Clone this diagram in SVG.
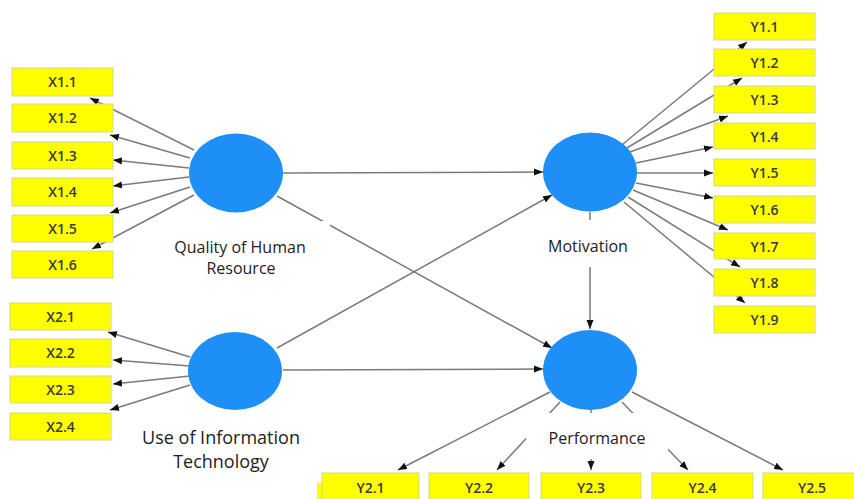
<svg xmlns="http://www.w3.org/2000/svg" width="854" height="499" viewBox="0 0 854 499">
<defs>
<marker id="ah" markerUnits="userSpaceOnUse" markerWidth="10" markerHeight="8" refX="9" refY="4" orient="auto">
<path d="M0,0.5 L9,4 L0,7.5 z" fill="#111"/>
</marker>
<style>
.c line{stroke:#7a7a7a;stroke-width:1.5;marker-end:url(#ah)}
.lv{fill:#1e8ff7}
.bx{fill:#ffff00;stroke:#d6d68a;stroke-width:1}
.bt{font-family:"Open Sans","Liberation Sans",sans-serif;font-size:14px;font-weight:600;fill:#3a3a3a;text-anchor:middle}
.lb{font-family:"Open Sans","Liberation Sans",sans-serif;font-size:16px;fill:#222;text-anchor:middle}
.bg{fill:#fff}
</style>
</defs>
<rect width="854" height="499" fill="#fff"/>
<g id="connectors" class="c">
<line x1="194" y1="150" x2="90" y2="98"/>
<line x1="190" y1="158" x2="110" y2="135"/>
<line x1="189" y1="168" x2="113" y2="160"/>
<line x1="189" y1="177" x2="113" y2="186"/>
<line x1="190" y1="187" x2="110" y2="213"/>
<line x1="194" y1="195" x2="92" y2="249"/>
<line x1="190" y1="357" x2="108" y2="332"/>
<line x1="190" y1="366" x2="113" y2="360"/>
<line x1="190" y1="376" x2="113" y2="384"/>
<line x1="190" y1="385" x2="110" y2="410"/>
<line x1="623" y1="144" x2="747" y2="42"/>
<line x1="627" y1="148" x2="742" y2="78"/>
<line x1="630" y1="152" x2="728" y2="116"/>
<line x1="636" y1="163" x2="713" y2="147"/>
<line x1="637" y1="173" x2="713" y2="173"/>
<line x1="636" y1="183" x2="713" y2="198"/>
<line x1="633" y1="190" x2="728" y2="230"/>
<line x1="628" y1="197" x2="740" y2="267"/>
<line x1="624" y1="202" x2="745" y2="303"/>
<line x1="550" y1="392" x2="398" y2="470"/>
<line x1="560" y1="402" x2="497" y2="470"/>
<line x1="591" y1="408" x2="591" y2="470"/>
<line x1="622" y1="402" x2="688" y2="470"/>
<line x1="632" y1="392" x2="783" y2="470"/>
<line x1="283" y1="173" x2="543" y2="172"/>
<line x1="277" y1="348" x2="552" y2="195"/>
<line x1="277" y1="196" x2="552" y2="348"/>
<line x1="283" y1="370" x2="543" y2="369"/>
<line x1="590" y1="212" x2="590" y2="329"/>
</g>
<g id="QHR">
<rect class="bg" x="150" y="221" width="180" height="60"/>
<ellipse class="lv" cx="236" cy="173" rx="47" ry="39.5"/>
<text class="lb" x="240" y="253">Quality of Human</text>
<text class="lb" x="241" y="273.5">Resource</text>
</g>
<g id="UIT">
<rect class="bg" x="135" y="420" width="175" height="55"/>
<ellipse class="lv" cx="235" cy="371" rx="47" ry="39"/>
<text class="lb" x="221" y="444" style="font-size:18px">Use of Information</text>
<text class="lb" x="221" y="468" style="font-size:18px">Technology</text>
</g>
<g id="MOT">
<rect class="bg" x="543" y="220" width="95" height="47"/>
<ellipse class="lv" cx="590" cy="172" rx="47" ry="39.5"/>
<text class="lb" x="588" y="252">Motivation</text>
</g>
<g id="PERF">
<rect class="bg" x="526" y="413" width="142" height="46"/>
<ellipse class="lv" cx="590" cy="370" rx="47" ry="40"/>
<text class="lb" x="597" y="444">Performance</text>
</g>
<g id="X1.1"><rect class="bx" x="12" y="68" width="101" height="28"/><text class="bt" x="62.5" y="87">X1.1</text></g>
<g id="X1.2"><rect class="bx" x="12" y="104" width="101" height="28"/><text class="bt" x="62.5" y="123">X1.2</text></g>
<g id="X1.3"><rect class="bx" x="12" y="142" width="101" height="27"/><text class="bt" x="62.5" y="160.5">X1.3</text></g>
<g id="X1.4"><rect class="bx" x="12" y="178" width="101" height="28"/><text class="bt" x="62.5" y="197">X1.4</text></g>
<g id="X1.5"><rect class="bx" x="12" y="215" width="101" height="27"/><text class="bt" x="62.5" y="233.5">X1.5</text></g>
<g id="X1.6"><rect class="bx" x="12" y="251" width="101" height="27"/><text class="bt" x="62.5" y="269.5">X1.6</text></g>
<g id="X2.1"><rect class="bx" x="10" y="303" width="101" height="27"/><text class="bt" x="60.5" y="321.5">X2.1</text></g>
<g id="X2.2"><rect class="bx" x="10" y="339" width="101" height="28"/><text class="bt" x="60.5" y="358">X2.2</text></g>
<g id="X2.3"><rect class="bx" x="10" y="376" width="101" height="27"/><text class="bt" x="60.5" y="394.5">X2.3</text></g>
<g id="X2.4"><rect class="bx" x="10" y="413" width="101" height="27"/><text class="bt" x="60.5" y="431.5">X2.4</text></g>
<g id="Y1.1"><rect class="bx" x="714" y="13" width="101" height="27"/><text class="bt" x="764.5" y="32">Y1.1</text></g>
<g id="Y1.2"><rect class="bx" x="714" y="49" width="101" height="27"/><text class="bt" x="764.5" y="68">Y1.2</text></g>
<g id="Y1.3"><rect class="bx" x="714" y="86" width="101" height="27"/><text class="bt" x="764.5" y="105">Y1.3</text></g>
<g id="Y1.4"><rect class="bx" x="714" y="123" width="101" height="26"/><text class="bt" x="764.5" y="141.5">Y1.4</text></g>
<g id="Y1.5"><rect class="bx" x="714" y="159" width="101" height="27"/><text class="bt" x="764.5" y="178">Y1.5</text></g>
<g id="Y1.6"><rect class="bx" x="714" y="196" width="101" height="27"/><text class="bt" x="764.5" y="215">Y1.6</text></g>
<g id="Y1.7"><rect class="bx" x="714" y="233" width="101" height="26"/><text class="bt" x="764.5" y="251.5">Y1.7</text></g>
<g id="Y1.8"><rect class="bx" x="714" y="269" width="101" height="27"/><text class="bt" x="764.5" y="288">Y1.8</text></g>
<g id="Y1.9"><rect class="bx" x="714" y="306" width="101" height="27"/><text class="bt" x="764.5" y="325">Y1.9</text></g>
<g id="Y2.1"><rect x="317" y="483" width="12" height="20" fill="#ffff00"/><rect class="bx" x="322" y="473" width="97" height="30"/><text class="bt" x="370.5" y="493">Y2.1</text></g>
<g id="Y2.2"><rect class="bx" x="429" y="473" width="100" height="30"/><text class="bt" x="479" y="493">Y2.2</text></g>
<g id="Y2.3"><rect class="bx" x="541" y="473" width="100" height="30"/><text class="bt" x="591" y="493">Y2.3</text></g>
<g id="Y2.4"><rect class="bx" x="652" y="473" width="101" height="30"/><text class="bt" x="702.5" y="493">Y2.4</text></g>
<g id="Y2.5"><rect class="bx" x="763" y="473" width="101" height="30"/><text class="bt" x="812" y="493">Y2.5</text></g>
</svg>
